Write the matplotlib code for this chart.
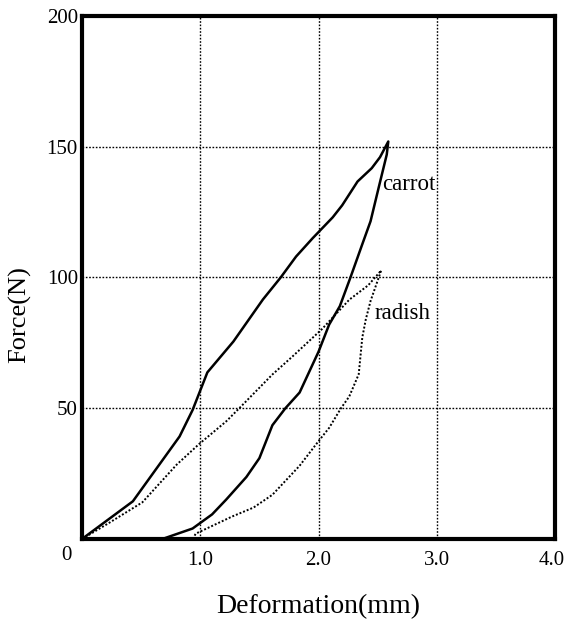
#!/usr/bin/env python3
"""Force-deformation loops for carrot and radish."""

import matplotlib
matplotlib.use("Agg")
import matplotlib.pyplot as plt
import matplotlib.transforms as mtransforms

# carrot: loading then unloading (solid)
carrot_load_x = [0.0, 0.43, 0.825, 0.935, 1.06, 1.28, 1.53, 1.68, 1.81, 1.95, 2.12, 2.20, 2.33, 2.45, 2.52, 2.59]
carrot_load_y = [0.0, 14.4, 39.2, 49.3, 63.7, 75.5, 91.6, 100.0, 108.0, 115.0, 123.0, 127.6, 136.7, 141.8, 146.0, 152.0]
carrot_unload_x = [2.59, 2.577, 2.51, 2.44, 2.37, 2.27, 2.18, 2.09, 2.00, 1.84, 1.72, 1.61, 1.50, 1.39, 1.22, 1.10, 0.935, 0.68]
carrot_unload_y = [152.0, 147.0, 134.6, 121.5, 112.7, 100.0, 89.0, 82.0, 71.6, 56.0, 50.0, 43.5, 30.9, 23.7, 15.1, 9.4, 4.0, 0.0]

# radish: loading then unloading (dotted)
radish_load_x = [0.0, 0.22, 0.51, 0.80, 0.99, 1.22, 1.33, 1.61, 1.78, 2.03, 2.26, 2.42, 2.53]
radish_load_y = [0.0, 5.9, 14.0, 28.4, 36.3, 45.0, 50.0, 62.9, 69.8, 80.3, 91.5, 97.0, 102.7]
radish_unload_x = [2.53, 2.44, 2.40, 2.37, 2.34, 2.26, 2.19, 2.09, 2.00, 1.84, 1.61, 1.45, 1.27, 0.96, 0.94]
radish_unload_y = [102.7, 91.0, 84.0, 77.0, 63.0, 54.5, 50.0, 42.5, 37.4, 28.0, 16.9, 12.0, 8.6, 2.0, 0.0]

xticks = [1.0, 2.0, 3.0, 4.0]
xtick_labels = ["1.0", "2.0", "3.0", "4.0"]
yticks = [50, 100, 150, 200]

plt.rcParams['font.family'] = ['Liberation Serif', 'DejaVu Serif']

fig = plt.figure(figsize=(5.66, 6.32), dpi=100)
ax = fig.add_axes([0.1449, 0.1472, 0.8357, 0.8275])

ax.plot(carrot_load_x + carrot_unload_x, carrot_load_y + carrot_unload_y,
        color='black', lw=1.8, solid_joinstyle='round')
ax.plot(radish_load_x + radish_unload_x, radish_load_y + radish_unload_y,
        color='black', lw=1.4, linestyle=(0, (1, 1)))

ax.text(2.535, 135.4, "carrot", fontsize=16.5, va='center', ha='left')
ax.text(2.476, 86.4, "radish", fontsize=16.5, va='center', ha='left')

ax.set_xlim(0, 4)
ax.set_ylim(0, 200)
ax.set_xticks(xticks, labels=xtick_labels)
ax.set_yticks(yticks)
ax.tick_params(length=0, labelsize=15)
ax.tick_params(axis='x', pad=9)
ax.tick_params(axis='y', pad=3)
# keep the last x label inside the figure
lab = ax.get_xticklabels()[-1]
lab.set_transform(lab.get_transform() + mtransforms.ScaledTranslation(-3 / 100, 0, fig.dpi_scale_trans))
ax.text(-0.021, -0.013, "0", transform=ax.transAxes, fontsize=15,
        ha='right', va='top')
ax.grid(True, color='black', linestyle=(0, (1.2, 1.2)), lw=1.0)
for s in ax.spines.values():
    s.set_linewidth(3)

ax.set_xlabel("Deformation(mm)", fontsize=20, labelpad=17)
ax.set_ylabel("Force(N)", fontsize=19)
ax.yaxis.set_label_coords(-0.108, 0.43)

fig.savefig("out.png", dpi=100)
